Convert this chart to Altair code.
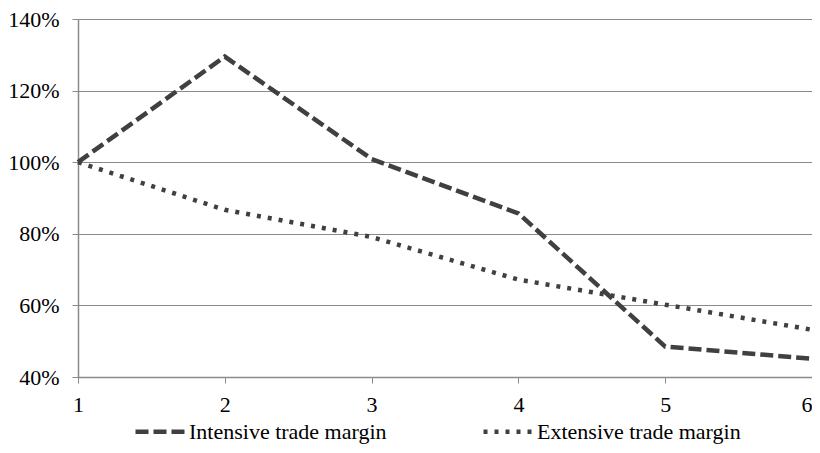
import altair as alt
import pandas as pd

x_vals = [1, 2, 3, 4, 5, 6]
intensive = [1.00, 1.295, 1.009, 0.857, 0.485, 0.451]
extensive = [1.00, 0.867, 0.791, 0.672, 0.602, 0.532]
series_names = ["Intensive trade margin", "Extensive trade margin"]
y_ticks = [0.4, 0.6, 0.8, 1.0, 1.2, 1.4]

rows = []
for xv, v in zip(x_vals, intensive):
    rows.append({"x": xv, "value": v, "series": series_names[0]})
for xv, v in zip(x_vals, extensive):
    rows.append({"x": xv, "value": v, "series": series_names[1]})
df = pd.DataFrame(rows)

FONT = "Liberation Serif"
GRID = "#8a8a8a"
LINE = "#404040"

chart = (
    alt.Chart(df)
    .mark_line(strokeWidth=4.5, color=LINE)
    .encode(
        x=alt.X(
            "x:Q",
            scale=alt.Scale(domain=[1, 6], nice=False, zero=False),
            axis=alt.Axis(
                values=x_vals,
                title=None,
                grid=False,
                tickSize=6,
                tickColor=GRID,
                domainColor=GRID,
                domainWidth=1.5,
                labelPadding=11,
                labelFontSize=22,
                labelFont=FONT,
                labelColor="#000000",
                labelFlush=False,
                labelAlign=alt.condition("datum.value == 6", alt.value("right"), alt.value("center")),
            ),
        ),
        y=alt.Y(
            "value:Q",
            scale=alt.Scale(domain=[0.4, 1.4], nice=False, zero=False),
            axis=alt.Axis(
                values=y_ticks,
                format=".0%",
                title=None,
                grid=True,
                gridColor=GRID,
                gridWidth=1.2,
                tickSize=6,
                tickColor=GRID,
                domainColor=GRID,
                domainWidth=1.5,
                labelPadding=13,
                labelFontSize=22,
                labelFont=FONT,
                labelColor="#000000",
            ),
        ),
        strokeDash=alt.StrokeDash(
            "series:N",
            sort=series_names,
            scale=alt.Scale(domain=series_names, range=[[13, 5], [4, 7]]),
            legend=alt.Legend(
                title=None,
                orient="none",
                direction="horizontal",
                legendX=55,
                legendY=385,
                symbolType="stroke",
                symbolSize=2500,
                symbolStrokeWidth=4.5,
                symbolStrokeColor=LINE,
                symbolOffset=0,
                labelOffset=1,
                columnPadding=87,
                labelFontSize=22,
                labelFont=FONT,
                labelColor="#000000",
                labelLimit=400,
            ),
        ),
        detail="series:N",
    )
    .properties(
        width=734,
        height=358,
        autosize=alt.AutoSizeParams(type="none"),
        padding={"left": 70, "top": 11, "right": 0, "bottom": 68},
    )
    .configure_view(stroke=None)
    .configure(background="white")
)

chart.save("out.html", embed_options={"renderer": "svg", "actions": False})
